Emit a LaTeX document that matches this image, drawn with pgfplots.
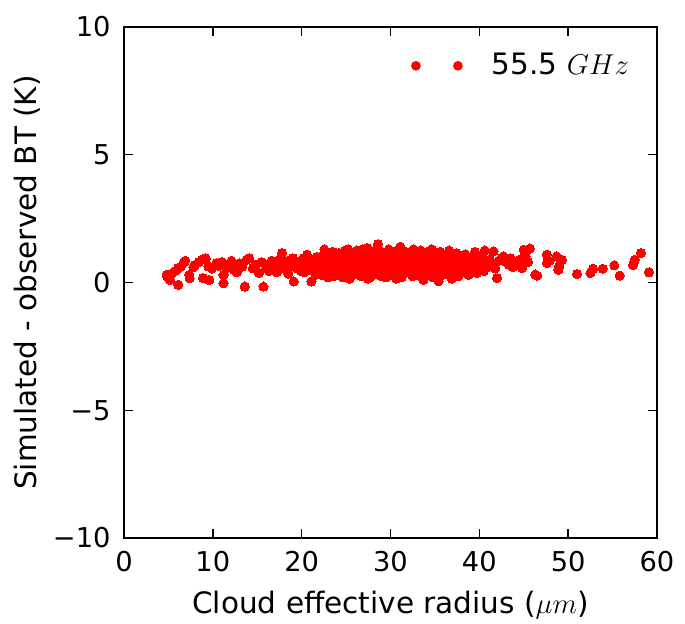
\documentclass[border=0pt]{standalone}
\usepackage{pgfplots}
\pgfplotsset{compat=1.18}
\usepackage{fontspec}
\setmainfont{DejaVu Sans}
\pgfplotstableread{
x y
4.8 0.30
4.9 0.20
5.2 0.10
5.4 0.35
5.8 0.45
6.1 -0.09
6.1 0.56
6.4 0.62
6.7 0.76
6.9 0.85
7.35 0.30
7.4 0.17
7.8 0.60
8.0 0.69
8.4 0.80
8.75 0.89
8.9 0.17
9.2 0.95
9.5 0.63
9.6 0.10
9.9 0.55
10.4 0.76
10.7 0.65
11.0 0.80
11.2 0.30
11.2 -0.03
11.5 0.55
11.9 0.69
12.1 0.85
12.4 0.50
12.7 0.40
13.0 0.75
13.3 0.62
13.6 -0.16
13.8 0.89
14.1 0.95
14.5 0.56
14.8 0.70
15.2 0.37
15.5 0.80
15.7 -0.16
16.0 0.55
16.3 0.45
16.6 0.85
16.9 0.65
17.0 0.70
17.2 0.40
17.4 0.55
17.5 0.90
17.8 1.15
18.0 0.55
18.1 0.85
18.3 0.70
18.5 0.35
18.6 0.65
18.8 0.89
19.0 0.95
19.1 0.04
19.3 0.60
19.5 0.55
19.6 0.80
19.8 0.70
19.9 0.45
20.0 0.85
20.2 0.95
20.3 0.40
20.4 0.65
20.6 1.09
20.7 0.60
20.9 0.50
21.0 0.90
21.1 0.04
21.3 0.75
21.4 0.55
21.6 0.30
21.7 1.00
21.8 0.90
21.9 0.65
22.05 0.55
22.15 0.88
22.25 0.30
22.35 1.05
22.45 0.70
22.55 1.30
22.65 0.45
22.75 0.95
22.85 0.62
22.95 0.20
22.4 0.80
22.7 0.55
23.0 0.75
23.1 1.10
23.2 0.40
23.3 0.90
23.4 0.60
23.5 1.20
23.6 0.25
23.7 0.80
23.8 0.50
23.9 1.00
23.25 0.65
23.75 0.35
23.55 0.95
24.0 0.85
24.1 0.55
24.2 1.15
24.3 0.30
24.4 0.70
24.5 1.00
24.6 0.45
24.7 0.90
24.8 0.60
24.9 1.25
24.35 0.80
24.65 0.20
24.15 0.95
24.85 0.38
25.0 0.70
25.1 1.05
25.2 0.40
25.3 0.88
25.4 0.15
25.5 1.20
25.6 0.58
25.7 0.95
25.8 0.30
25.9 0.78
25.25 1.30
25.45 0.62
25.65 0.45
25.85 1.10
25.15 0.85
26.0 0.50
26.1 0.95
26.2 1.25
26.3 0.35
26.4 0.80
26.5 0.60
26.6 1.10
26.7 0.25
26.8 0.90
26.9 0.70
26.25 0.45
26.45 1.00
26.65 0.55
26.85 1.30
26.05 0.82
26.75 0.40
27.0 0.65
27.1 1.15
27.2 0.30
27.3 0.85
27.4 1.35
27.5 0.55
27.6 1.00
27.7 0.20
27.8 0.75
27.9 1.20
27.15 0.45
27.35 0.95
27.55 0.70
27.75 1.10
27.95 0.40
27.45 0.15
28.0 0.90
28.1 0.50
28.2 1.25
28.3 0.70
28.4 0.35
28.5 1.05
28.6 1.50
28.7 0.60
28.8 0.85
28.9 0.25
28.15 0.75
28.35 1.15
28.55 0.45
28.75 1.00
28.95 0.65
28.45 0.80
29.0 1.20
29.1 0.40
29.2 0.85
29.3 0.60
29.4 1.10
29.5 0.20
29.6 0.95
29.7 0.70
29.8 1.30
29.9 0.50
29.25 0.30
29.45 0.78
29.65 1.05
29.85 0.85
29.15 0.62
30.0 0.75
30.1 1.15
30.2 0.45
30.3 0.90
30.4 0.25
30.5 1.00
30.6 0.65
30.7 1.25
30.8 0.35
30.9 0.80
30.25 1.05
30.45 0.55
30.65 0.15
30.85 1.10
30.15 0.60
30.95 0.95
31.0 0.50
31.1 1.40
31.2 0.85
31.3 0.30
31.4 1.05
31.5 0.70
31.6 0.45
31.7 1.20
31.8 0.60
31.9 0.90
31.25 0.20
31.45 0.95
31.65 0.75
31.85 1.15
31.05 0.65
32.0 0.80
32.1 0.40
32.2 1.10
32.3 0.65
32.4 0.90
32.5 0.25
32.6 1.30
32.7 0.55
32.8 0.95
32.9 0.35
32.15 0.70
32.35 1.20
32.55 0.50
32.75 0.85
32.95 1.05
33.0 0.60
33.1 1.00
33.2 0.30
33.3 0.85
33.4 1.25
33.5 0.45
33.6 0.75
33.7 0.10
33.8 1.10
33.9 0.55
33.25 0.95
33.45 0.65
33.65 1.15
33.85 0.40
33.15 0.80
34.0 0.90
34.1 0.50
34.2 1.20
34.3 0.70
34.4 0.30
34.5 1.00
34.6 0.60
34.7 0.85
34.8 0.20
34.9 1.10
34.25 0.45
34.45 0.80
34.65 1.30
34.85 0.55
34.15 0.75
35.0 0.65
35.1 1.05
35.2 0.40
35.3 0.90
35.4 0.05
35.5 0.75
35.6 1.20
35.7 0.50
35.8 0.85
35.9 0.30
35.25 1.00
35.45 0.60
35.65 0.95
35.85 0.70
36.0 0.80
36.1 0.45
36.2 1.10
36.3 0.65
36.4 0.95
36.5 0.30
36.6 1.25
36.7 0.55
36.8 0.85
36.9 0.15
36.25 0.70
36.55 1.00
36.75 0.40
36.95 0.90
37.0 0.60
37.15 0.95
37.3 0.35
37.45 1.15
37.6 0.75
37.75 0.50
37.9 1.00
37.35 0.85
37.65 0.25
37.85 0.70
38.0 0.90
38.2 0.45
38.4 1.10
38.6 0.65
38.8 0.30
38.3 0.80
38.7 1.00
38.9 0.55
39.1 0.85
39.3 0.56
39.5 1.20
39.7 0.37
39.9 0.75
39.4 0.95
40.1 0.65
40.3 1.05
40.5 0.45
40.8 0.85
40.6 1.25
40.9 0.60
41.2 0.90
41.6 1.22
41.4 0.70
41.8 0.55
42.0 0.17
42.2 0.85
42.5 0.95
42.7 1.02
43.0 0.80
43.3 0.70
43.5 0.95
43.8 0.60
44.0 0.82
44.3 0.75
44.6 0.90
44.8 0.56
44.9 0.70
45.0 1.28
45.2 1.02
45.5 0.80
45.7 1.33
46.3 0.31
46.5 0.27
47.6 1.09
47.6 0.76
47.9 0.85
48.7 1.02
48.9 0.50
49.0 0.65
49.3 0.89
51.0 0.33
52.5 0.37
52.8 0.54
53.9 0.54
55.2 0.67
55.8 0.27
57.3 0.69
57.5 0.89
58.2 1.15
59.1 0.40
}\datatable
\begin{document}
\fontsize{13.7}{16.5}\selectfont
\begin{tikzpicture}
\useasboundingbox (-62bp,-43bp) rectangle (280.5bp,269bp);
\begin{axis}[
  at={(0,0)}, anchor=south west,
  scale only axis, width=266.5bp, height=255.5bp,
  xmin=0, xmax=60, ymin=-10, ymax=10,
  xtick={0,10,20,30,40,50,60},
  xticklabels={0,10,20,30,40,50,60},
  ytick={-10,-5,0,5,10},
  yticklabels={−10,−5,0,5,10},
  tick align=inside,
  major tick length=4.5bp,
  every tick/.style={black, line width=0.7bp},
  axis line style={line width=1bp},
  tick label style={font=\fontsize{13.7}{16.5}\selectfont},
  xlabel style={font=\fontsize{14.8}{17}\selectfont},
  ylabel style={font=\fontsize{14.8}{17}\selectfont, yshift=-3bp},
  xticklabel style={yshift=-2bp},
  yticklabel style={xshift=-2bp},
  xlabel={Cloud effective radius ($\mu m$)},
  ylabel={Simulated - observed BT (K)},
  legend style={at={(0.538,0.924)}, anchor=west, draw=none, fill=none, inner sep=0pt,
    font=\fontsize{14.8}{17}\selectfont},
  legend image code/.code={
    \fill[red] (0bp,0bp) circle (2.2bp);
    \fill[red] (21bp,0bp) circle (2.2bp);
    \path[draw=none] (-2.2bp,0bp) -- (36bp,0bp);
  },
]
\addplot[only marks, mark=*, mark size=2.3bp, color=red, mark options={fill=red, draw=red, line width=0pt}] table[x=x,y=y] {\datatable};
\addlegendentry{55.5 $GHz$}
\end{axis}
\end{tikzpicture}
\end{document}
